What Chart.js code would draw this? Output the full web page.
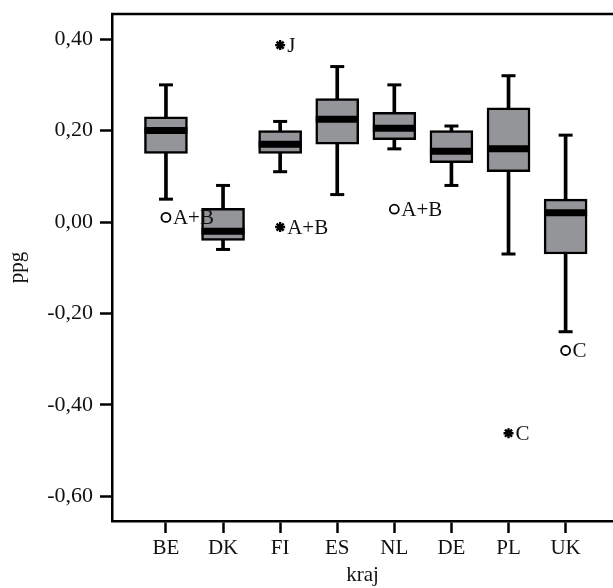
<!DOCTYPE html>
<html>
<head>
<meta charset="utf-8">
<script src="https://cdn.jsdelivr.net/npm/chart.js@4"></script>
<style>
  body { margin: 0; background: #fff; }
  #wrap { width: 613px; height: 588px; }
</style>
</head>
<body>
<div id="wrap"><canvas id="myChart" width="613" height="588"></canvas></div>
<script>
// boxplot figures
const categories = ['BE', 'DK', 'FI', 'ES', 'NL', 'DE', 'PL', 'UK'];
const whiskerLow  = [0.05, -0.06, 0.11, 0.06, 0.16, 0.08, -0.07, -0.24];
const q1          = [0.15, -0.04, 0.15, 0.17, 0.18, 0.13, 0.11, -0.07];
const median      = [0.20, -0.02, 0.17, 0.225, 0.205, 0.155, 0.16, 0.02];
const q3          = [0.23, 0.03, 0.20, 0.27, 0.24, 0.20, 0.25, 0.05];
const whiskerHigh = [0.30, 0.08, 0.22, 0.34, 0.30, 0.21, 0.32, 0.19];

// outliers: category index, value, marker, label
const outlierCat   = [0, 2, 2, 4, 6, 7];
const outlierVal   = [0.01, 0.387, -0.011, 0.028, -0.462, -0.281];
const outlierMark  = ['circle', 'star', 'star', 'circle', 'star', 'circle'];
const outlierLabel = ['A+B', 'J', 'A+B', 'A+B', 'C', 'C'];

const yTicks = [-0.6, -0.4, -0.2, 0, 0.2, 0.4];

document.addEventListener('DOMContentLoaded', () => {
    const font = "'Liberation Serif', 'DejaVu Serif', serif";
    const grey = '#939598';

    const xs = categories.map((c, i) => i + 1);

    const extras = {
        id: 'extras',
        afterDatasetsDraw(chart) {
            const ctx = chart.ctx;
            const a = chart.chartArea;
            const x = chart.scales.x, y = chart.scales.y;
            ctx.save();
            // top frame line
            ctx.strokeStyle = '#000';
            ctx.lineWidth = 2.5;
            ctx.beginPath();
            ctx.moveTo(a.left - 1, a.top);
            ctx.lineTo(a.right, a.top);
            ctx.stroke();
            // outlier labels
            ctx.fillStyle = '#111';
            ctx.font = '21px ' + font;
            ctx.textBaseline = 'middle';
            ctx.textAlign = 'left';
            outlierLabel.forEach((t, i) => {
                const px = x.getPixelForValue(outlierCat[i] + 1);
                const py = y.getPixelForValue(outlierVal[i]);
                ctx.fillText(t, px + 7, py + 1);
            });
            ctx.restore();
        }
    };

    const ctx = document.getElementById('myChart');
    new Chart(ctx, {
        type: 'bar',
        data: {
            datasets: [
                {
                    type: 'scatter',
                    label: 'outliers',
                    data: outlierVal.map((v, i) => ({ x: outlierCat[i] + 1, y: v })),
                    pointStyle: outlierMark,
                    pointRadius: outlierMark.map(m => m === 'circle' ? 4.5 : 5),
                    borderColor: '#000',
                    backgroundColor: '#fff',
                    borderWidth: outlierMark.map(m => m === 'circle' ? 1.8 : 2.4)
                },
                {
                    type: 'scatter',
                    label: 'median',
                    data: median.map((v, i) => ({ x: xs[i], y: v })),
                    pointStyle: 'line',
                    pointRadius: 21.5,
                    borderColor: '#000',
                    borderWidth: 7
                },
                {
                    type: 'scatter',
                    label: 'caps',
                    data: whiskerLow.map((v, i) => ({ x: xs[i], y: v }))
                        .concat(whiskerHigh.map((v, i) => ({ x: xs[i], y: v }))),
                    pointStyle: 'line',
                    pointRadius: 7,
                    borderColor: '#000',
                    borderWidth: 3
                },
                {
                    label: 'box',
                    data: q1.map((v, i) => ({ x: xs[i], y: [v, q3[i]] })),
                    backgroundColor: grey,
                    borderColor: '#000',
                    borderWidth: 2.5,
                    borderSkipped: false,
                    barThickness: 43,
                    grouped: false
                },
                {
                    label: 'whisker',
                    data: whiskerLow.map((v, i) => ({ x: xs[i], y: [v, whiskerHigh[i]] })),
                    backgroundColor: '#000',
                    borderWidth: 0,
                    barThickness: 3,
                    grouped: false
                }
            ]
        },
        options: {
            responsive: false,
            animation: false,
            layout: {
                autoPadding: false,
                padding: { top: 14, right: 0, bottom: 0, left: 0 }
            },
            plugins: {
                legend: { display: false },
                tooltip: { enabled: false }
            },
            scales: {
                x: {
                    type: 'linear',
                    position: 'bottom',
                    offset: false,
                    min: 0.055,
                    max: 8.83,
                    afterBuildTicks: s => { s.ticks = xs.map(v => ({ value: v })); },
                    afterFit: s => {
                        s.height = 67;
                        s.paddingLeft = 0;
                        s.paddingRight = 0;
                    },
                    ticks: {
                        callback: v => categories[v - 1],
                        color: '#111',
                        font: { family: font, size: 21 },
                        padding: 3,
                        maxRotation: 0,
                        autoSkip: false
                    },
                    grid: {
                        offset: false,
                        drawOnChartArea: false,
                        tickLength: 12,
                        tickWidth: 2.5,
                        tickColor: '#000'
                    },
                    border: { color: '#000', width: 2.5 },
                    title: {
                        display: true,
                        text: 'kraj',
                        color: '#111',
                        font: { family: font, size: 21 },
                        padding: { top: 0, bottom: 0 }
                    }
                },
                y: {
                    min: -0.654,
                    max: 0.455,
                    afterBuildTicks: s => { s.ticks = yTicks.map(v => ({ value: v })); },
                    afterFit: s => {
                        s.width = 112;
                        s.paddingTop = 0;
                        s.paddingBottom = 0;
                    },
                    ticks: {
                        callback: v => v.toFixed(2).replace('.', ','),
                        color: '#111',
                        font: { family: font, size: 22 },
                        padding: 7
                    },
                    grid: {
                        drawOnChartArea: false,
                        tickLength: 12,
                        tickWidth: 2.5,
                        tickColor: '#000'
                    },
                    border: { color: '#000', width: 2.5 },
                    title: {
                        display: true,
                        text: 'ppg',
                        color: '#111',
                        font: { family: font, size: 21 },
                        padding: { top: 5, bottom: 0 }
                    }
                }
            }
        },
        plugins: [extras]
    });
});
</script>
</body>
</html>
